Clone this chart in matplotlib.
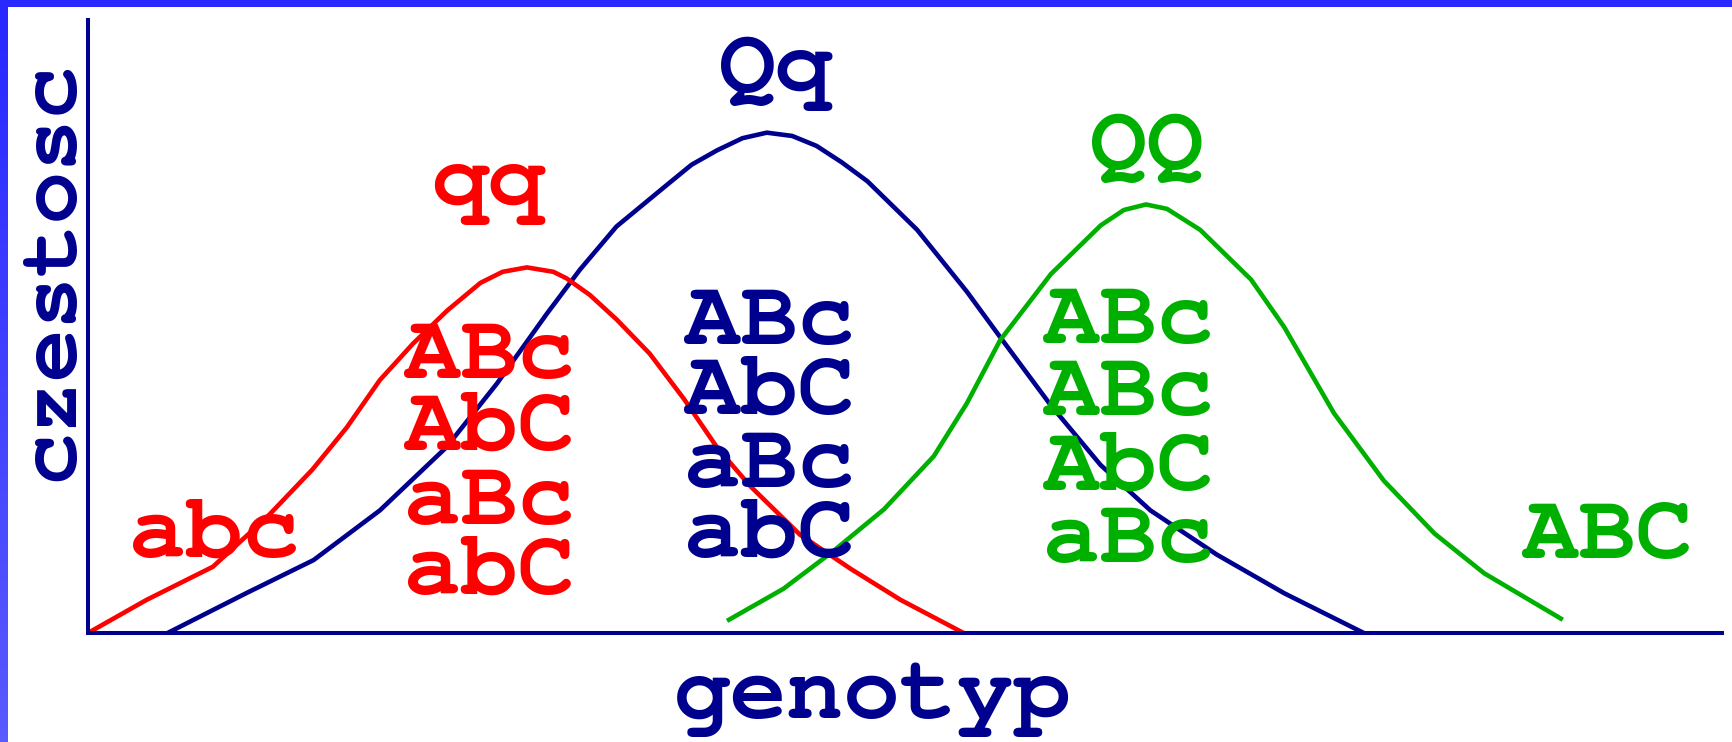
import numpy as np
import matplotlib
matplotlib.use("Agg")
import matplotlib.pyplot as plt
from matplotlib.patches import Rectangle
from matplotlib.colors import LinearSegmentedColormap

# curve points (genotype axis, frequency axis)
qq_x = [0, 53, 113, 162, 203, 234, 264, 294, 325, 355, 375, 397, 421, 433, 454, 478, 508, 539, 569, 599, 644, 690, 735, 792]
qq_y = [0, 30, 60, 105, 148, 186, 229, 262, 292, 317, 327, 331, 327, 321, 306, 284, 253, 212, 168, 133, 89, 58, 30, 0]

Qq_x = [72, 143, 204, 264, 324, 370, 415, 445, 478, 524, 546, 569, 592, 614, 637, 659, 682, 705, 750, 795, 825, 871, 916, 961, 1021, 1082, 1154]
Qq_y = [0, 36, 66, 111, 168, 226, 289, 329, 368, 406, 424, 437, 448, 453, 450, 441, 426, 409, 365, 309, 268, 206, 152, 111, 71, 36, 0]

QQ_x = [578, 629, 674, 720, 765, 795, 825, 871, 916, 937, 957, 976, 1006, 1052, 1082, 1127, 1172, 1218, 1263, 1334]
QQ_y = [11, 40, 74, 112, 160, 208, 265, 325, 369, 383, 388, 384, 365, 320, 277, 199, 138, 90, 54, 12]

# labels
qq_label, Qq_label, QQ_label = "qq", "Qq", "QQ"
qq_low = "abc"
qq_mid = ["ABc", "AbC", "aBc", "abC"]
Qq_mid = ["ABc", "AbC", "aBc", "abC"]
QQ_mid = ["ABc", "ABc", "AbC", "aBc"]
QQ_high = "ABC"
x_title = "genotyp"
y_title = "czestosc"

RED = "#ff0000"
NAVY = "#00008f"
GREEN = "#00b000"
FONT = ["Courier New", "Nimbus Mono PS", "FreeMono", "Liberation Mono"]
FS = 68

W, H = 1732, 742
fig = plt.figure(figsize=(W / 100, H / 100), dpi=100)
fig.patch.set_facecolor("white")

# slide frame: blue strip on top and a gradient strip on the left
fig.patches.append(Rectangle((0, 1 - 7 / H), 1, 7 / H, transform=fig.transFigure,
                             facecolor="#2828ff", edgecolor="none", zorder=0))
bar = fig.add_axes([0, 0, 8 / W, 1 - 7 / H])
grad = np.linspace(0, 1, 256).reshape(-1, 1)
cmap = LinearSegmentedColormap.from_list("edge", ["#2828ff", "#5a5aff"])
bar.imshow(grad, aspect="auto", cmap=cmap, extent=[0, 1, 0, 1], origin="upper")
bar.axis("off")

ax = fig.add_axes([88 / W, 1 - 633 / H, (1722 - 88) / W, (633 - 20) / H])
ax.set_xlim(0, 1478)
ax.set_ylim(0, 555)
for side in ["top", "right"]:
    ax.spines[side].set_visible(False)
for side in ["left", "bottom"]:
    ax.spines[side].set_color(NAVY)
    ax.spines[side].set_linewidth(2.9)
ax.set_xticks([])
ax.set_yticks([])
ax.patch.set_alpha(0)

lw = 3.3
for xs, ys, c in [(Qq_x, Qq_y, NAVY), (QQ_x, QQ_y, GREEN), (qq_x, qq_y, RED)]:
    ax.plot(xs, ys, color=c, lw=lw, clip_on=False,
            solid_capstyle="butt", solid_joinstyle="round")

def label(x, y, s, c):
    ax.text(x, y, s, color=c, fontsize=FS, fontweight="bold", family=FONT,
            ha="center", va="baseline")

label(363, 387, qq_label, RED)
label(622, 490, Qq_label, NAVY)
label(958, 420, QQ_label, GREEN)
label(114, 69, qq_low, RED)
label(1374, 68, QQ_high, GREEN)

# stacked haplotype blocks, one line each
for s, yb in zip(qq_mid, [231, 166, 99, 36]):
    label(363, yb, s, RED)
for s, yb in zip(Qq_mid, [262, 199, 132, 69]):
    label(616, yb, s, NAVY)
for s, yb in zip(QQ_mid, [263, 197, 130, 64]):
    label(941, yb, s, GREEN)

fig.text(872 / W, 1 - 718 / H, x_title, color=NAVY, fontsize=FS, fontweight="bold",
         family=FONT, ha="center", va="baseline")
fig.text(72 / W, 1 - 271 / H, y_title, color=NAVY, fontsize=63, fontweight="bold",
         family=FONT, ha="center", va="baseline", rotation=90, rotation_mode="anchor")

fig.savefig("out.png", dpi=100)
